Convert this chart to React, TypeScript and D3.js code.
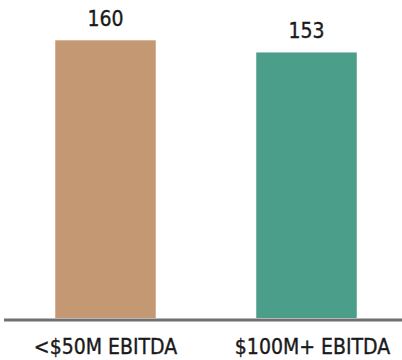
import React from "react";
import * as d3 from "d3";

const categories = ["<$50M EBITDA", "$100M+ EBITDA"];
const values = [160, 153];
const colors = ["#C39873", "#4B9E8A"];

const W = 402;
const H = 360;

export default function App() {
  const x = d3
    .scaleBand<string>()
    .domain(categories)
    .range([5, 407])
    .paddingInner(0.5)
    .paddingOuter(0.25);
  const y = d3.scaleLinear().domain([0, 160]).range([318, 40.3]);
  const font = "'DejaVu Sans', Verdana, sans-serif";

  return (
    <svg
      width={W}
      height={H}
      style={{ position: "fixed", left: 0, top: 0, background: "#fff" }}
    >
      {categories.map((c, i) => (
        <g key={c}>
          <rect
            x={x(c)!}
            y={y(values[i])}
            width={x.bandwidth()}
            height={y(0) - y(values[i])}
            fill={colors[i]}
          />
          <text
            x={x(c)! + x.bandwidth() / 2}
            y={y(values[i]) - 14.5}
            textAnchor="middle"
            fontFamily={font}
            fontStretch="condensed"
            fontSize={21}
            fill="#1a1a1a"
            stroke="#1a1a1a"
            strokeWidth={0.35}
          >
            {d3.format("d")(values[i])}
          </text>
          <text
            x={x(c)! + x.bandwidth() / 2 + (i === 1 ? 6 : 0)}
            y={353.5}
            textAnchor="middle"
            fontFamily={font}
            fontStretch="condensed"
            fontSize={21}
            fill="#1a1a1a"
            stroke="#1a1a1a"
            strokeWidth={0.35}
          >
            {c}
          </text>
        </g>
      ))}
      <line x1={4} x2={402} y1={320} y2={320} stroke="#707070" strokeWidth={3} />
    </svg>
  );
}
